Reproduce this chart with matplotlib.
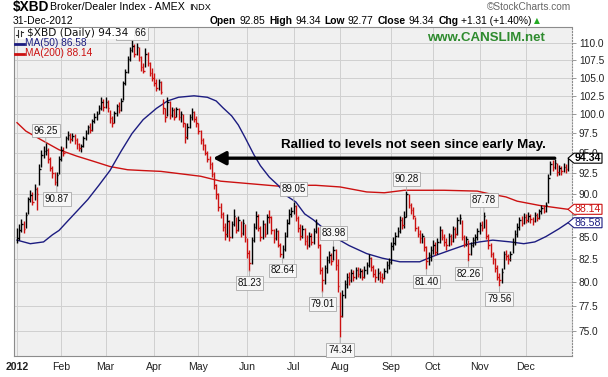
import numpy as np
import pandas as pd
import matplotlib
matplotlib.use("Agg")
import matplotlib.pyplot as plt
from matplotlib.ticker import FixedLocator, NullLocator, FixedFormatter
from matplotlib.transforms import IdentityTransform
from matplotlib.patches import Polygon, Rectangle
from matplotlib.lines import Line2D

plt.rcParams['font.family'] = ['Liberation Sans', 'DejaVu Sans']

# ---------------- data ----------------
holidays = ['2012-01-02', '2012-01-16', '2012-02-20', '2012-04-06', '2012-05-28', '2012-07-04',
            '2012-09-03', '2012-10-29', '2012-10-30', '2012-11-22', '2012-12-25']
dates = pd.bdate_range('2012-01-03', '2012-12-31', freq='C', holidays=holidays)

close = [
    84.8, 85.8, 86.4, 85.9, 87.5, 89.3, 89.8, 89.0, 90.5, 90.0, 93.0, 94.8, 95.2, 95.4, 94.2, 93.1, 92.5, 91.4, 92.2, 94.3,
    95.4, 95.0, 96.9, 97.3, 96.8, 97.2, 96.6, 96.1, 95.6, 95.9, 96.9, 97.6, 98.3, 97.9, 99.1, 99.7, 100.1, 100.9, 101.7, 101.0,
    101.6, 100.8, 99.5, 98.9, 100.2, 101.1, 100.6, 101.8, 104.2, 105.8, 107.6, 108.9, 109.5, 108.3, 109.4, 107.9, 106.5, 106.0, 108.4, 107.0, 105.6, 105.0,
    104.3, 103.6, 104.4, 103.0, 100.8, 99.6, 101.6, 99.9, 100.6, 99.7, 100.7, 99.6, 100.1, 98.8, 97.0, 98.4, 99.6, 100.3, 99.4, 98.8,
    97.8, 96.6, 96.0, 95.0, 94.3, 93.6, 92.4, 91.0, 89.9, 88.4, 87.6, 86.1, 85.3, 86.8, 85.0, 86.4, 87.4, 85.8, 86.9, 85.4, 86.5, 84.9,
    83.2, 82.1, 84.6, 86.1, 87.4, 86.0, 84.9, 86.4, 85.3, 87.3, 87.2, 85.7, 84.8, 85.6, 84.1, 83.0, 83.6, 85.1, 86.6, 87.6, 88.0,
    88.5, 87.1, 86.0, 85.1, 85.9, 84.5, 84.0, 85.1, 84.4, 85.6, 86.4, 84.1, 81.3, 80.2, 81.5, 82.4, 82.9, 82.3, 83.5, 81.8,
    79.6, 76.5, 78.6, 79.8, 80.6, 80.2, 81.0, 80.5, 81.3, 80.9, 81.2, 80.6, 81.3, 81.8, 82.6, 81.6, 80.9, 80.5, 81.0, 80.6, 80.4, 81.2, 81.8,
    82.2, 83.9, 84.3, 85.1, 85.6, 86.9, 86.3, 87.3, 89.9, 88.7, 88.1, 87.4, 86.0, 85.3, 84.8, 85.1, 83.8, 82.3, 82.9,
    83.5, 84.1, 83.3, 84.4, 85.7, 85.0, 84.4, 84.0, 85.1, 84.5, 85.9, 85.3, 86.9, 87.1, 85.0, 84.2, 84.7, 83.1, 84.1, 84.6, 84.9,
    85.6, 86.3, 86.0, 87.4, 85.1, 84.1, 83.1, 82.5, 81.5, 80.6, 80.2, 81.1, 83.1, 82.8, 82.5, 83.1, 84.4, 85.3, 86.1, 86.9, 86.6,
    87.3, 86.9, 87.4, 87.0, 86.8, 87.5, 87.1, 87.9, 88.3, 88.0, 88.7, 91.9, 93.6, 93.2, 93.7, 92.6, 93.1, 92.7, 93.3, 93.03, 94.34,
]
high = [
    86.0, 86.4, 87.0, 86.8, 87.8, 89.6, 90.4, 90.2, 91.2, 90.8, 93.6, 95.4, 95.9, 96.25, 95.6, 94.5, 93.4, 92.6, 92.6, 94.6,
    95.9, 95.8, 97.2, 97.8, 97.6, 97.6, 97.4, 96.9, 96.3, 96.2, 97.2, 98.0, 98.6, 98.8, 99.4, 100.2, 100.5, 101.3, 102.3, 102.0,
    102.4, 101.9, 100.6, 99.8, 100.5, 101.4, 101.6, 102.2, 104.6, 106.2, 108.0, 109.4, 110.66, 109.8, 109.9, 109.3, 108.0, 107.0, 109.2, 108.6, 107.2, 106.3,
    105.6, 104.8, 104.8, 104.5, 102.0, 100.9, 102.4, 101.8, 101.0, 100.9, 101.0, 100.8, 100.5, 100.0, 98.9, 98.8, 100.0, 100.8, 100.5, 99.8,
    98.9, 98.0, 96.9, 96.2, 95.3, 94.6, 93.9, 92.6, 91.2, 90.1, 88.9, 87.8, 86.5, 87.6, 86.9, 86.8, 88.2, 87.3, 87.4, 86.8, 87.0, 86.4,
    84.8, 83.5, 85.0, 86.6, 88.0, 87.6, 86.2, 86.9, 86.5, 87.6, 88.1, 87.4, 85.9, 86.0, 85.8, 84.3, 84.0, 85.5, 87.0, 88.2, 88.4,
    89.05, 88.6, 87.4, 86.4, 86.3, 86.0, 85.2, 85.5, 85.4, 86.0, 87.0, 86.1, 84.2, 81.6, 81.9, 82.8, 83.4, 83.2, 83.98, 83.6,
    82.5, 79.0, 79.2, 80.2, 81.0, 81.1, 81.4, 81.3, 81.6, 81.6, 81.5, 81.4, 81.7, 82.2, 83.0, 82.7, 81.9, 81.4, 81.5, 81.2, 81.0, 81.5, 82.3,
    82.6, 84.4, 84.9, 85.5, 86.1, 87.4, 87.2, 87.9, 90.28, 89.9, 88.9, 88.4, 87.2, 86.2, 85.7, 85.4, 85.0, 83.9, 83.3,
    83.9, 84.6, 84.4, 84.8, 86.2, 85.9, 85.3, 84.8, 85.4, 85.3, 86.2, 86.1, 87.3, 87.6, 86.9, 85.2, 85.1, 84.6, 84.4, 85.0, 85.3,
    86.0, 86.7, 86.8, 87.78, 87.0, 85.3, 84.3, 83.3, 82.6, 81.8, 81.0, 81.5, 83.4, 83.5, 83.1, 83.4, 84.8, 85.7, 86.5, 87.3, 87.4,
    87.7, 87.6, 87.8, 87.6, 87.3, 87.8, 87.7, 88.2, 88.6, 88.7, 89.0, 92.4, 94.0, 94.1, 94.2, 93.8, 93.5, 93.4, 93.8, 93.6, 94.34,
]
low = [
    84.3, 84.6, 85.5, 85.4, 86.0, 87.6, 89.0, 88.6, 89.2, 88.1, 91.0, 93.2, 94.4, 94.8, 93.8, 92.8, 91.9, 91.0, 90.87, 92.4,
    94.0, 94.6, 95.6, 96.6, 96.3, 96.5, 96.1, 95.5, 95.2, 95.1, 95.8, 96.7, 97.4, 97.5, 97.8, 98.9, 99.3, 100.0, 100.6, 100.5,
    100.8, 100.3, 98.8, 98.4, 98.9, 99.8, 100.2, 100.4, 101.9, 104.0, 105.6, 107.4, 108.6, 107.9, 108.2, 107.3, 106.0, 105.7, 106.5, 106.7, 105.2, 104.6,
    103.8, 103.1, 103.3, 102.7, 100.1, 99.0, 99.8, 99.4, 99.6, 99.3, 99.6, 99.2, 99.0, 98.3, 96.3, 96.8, 98.2, 99.3, 99.0, 98.3,
    97.4, 96.2, 95.4, 94.7, 93.9, 93.0, 92.0, 90.5, 89.4, 88.0, 87.1, 85.6, 84.6, 85.0, 84.5, 84.8, 86.2, 85.4, 85.6, 84.9, 85.2, 84.4,
    82.6, 81.23, 82.0, 84.4, 85.9, 85.6, 84.5, 84.7, 84.9, 85.3, 86.6, 85.3, 84.3, 84.6, 83.8, 82.7, 82.64, 83.4, 85.0, 86.4, 87.2,
    87.6, 86.8, 85.5, 84.6, 84.8, 84.1, 83.6, 83.8, 84.0, 84.2, 85.4, 83.7, 80.9, 79.01, 79.8, 81.0, 82.1, 81.9, 82.4, 81.3,
    79.0, 74.34, 76.4, 78.3, 79.4, 79.7, 80.0, 80.1, 80.3, 80.5, 80.4, 80.2, 80.4, 80.9, 81.6, 81.2, 80.5, 80.0, 80.2, 80.0, 79.9, 80.3, 81.0,
    81.4, 82.0, 83.5, 84.0, 84.9, 85.4, 85.9, 86.0, 87.3, 88.3, 87.6, 87.0, 85.6, 84.9, 84.3, 84.3, 83.4, 81.40, 81.9,
    82.3, 83.0, 82.9, 83.1, 84.3, 84.6, 83.9, 83.5, 83.9, 84.1, 84.4, 84.8, 85.2, 86.4, 84.6, 83.8, 83.9, 82.26, 82.9, 83.8, 84.1,
    84.6, 85.3, 85.6, 86.0, 84.7, 83.6, 82.7, 82.0, 81.1, 80.2, 79.56, 79.9, 81.4, 82.4, 82.0, 82.3, 83.2, 84.1, 85.0, 85.8, 86.2,
    86.4, 86.5, 86.7, 86.6, 86.3, 86.7, 86.8, 87.0, 87.6, 87.7, 87.8, 88.9, 92.2, 92.8, 93.0, 92.1, 92.3, 92.2, 92.6, 92.5, 92.77,
]

# moving averages read at sample trading-day indices
ma50_idx = [0, 6, 12, 16, 19, 23, 27, 32, 37, 42, 47, 52, 57, 63, 68, 73, 80, 86, 90, 93,
            97, 100, 103, 107, 110, 114, 118, 122, 126, 130, 134, 143, 150, 158, 165, 173, 182, 188, 196, 203,
            209, 215, 223, 229, 234, 239, 245, 249]
ma50_val = [84.6, 84.2, 84.4, 85.2, 85.7, 86.8, 87.9, 89.3, 91.0, 92.8, 95.2, 97.5, 99.3, 100.8, 101.8, 102.3, 102.5, 102.3, 101.8, 100.9,
            99.8, 98.6, 97.0, 94.8, 93.4, 92.0, 91.0, 89.7, 89.0, 87.6, 86.9, 85.0, 84.0, 83.1, 82.6, 82.2, 82.2, 82.8, 83.5, 84.1,
            84.4, 84.6, 84.4, 84.2, 84.4, 85.0, 85.9, 86.58]
ma200_idx = [0, 4, 12, 19, 27, 34, 42, 50, 57, 65, 77, 83, 92, 105, 118, 128, 135, 146, 158, 166,
             175, 193, 208, 213, 221, 226, 236, 249]
ma200_val = [98.9, 97.8, 96.5, 95.4, 94.6, 94.0, 93.3, 92.9, 92.8, 92.7, 92.3, 92.1, 91.5, 91.2, 90.9, 91.0, 91.0, 90.8, 90.2, 90.1,
             90.4, 90.4, 90.3, 90.0, 89.6, 89.1, 88.6, 88.14]

callout_idx = [13, 18, 52, 125, 105, 120, 138, 143, 146, 176, 185, 211, 204, 218]
callout_val = [96.25, 90.87, 110.66, 89.05, 81.23, 82.64, 79.01, 83.98, 74.34, 90.28, 81.40, 87.78, 82.26, 79.56]
callout_side = [1, -1, 1, 1, -1, -1, -1, 1, -1, 1, -1, 1, -1, -1]

yticks = [75.0, 77.5, 80.0, 82.5, 85.0, 87.5, 90.0, 92.5, 95.0, 97.5, 100.0, 102.5, 105.0, 107.5, 110.0]
# 87.5 sits fully under the MA tags in the reference, so its label is left blank
ytick_labels = ['75.0', '77.5', '80.0', '82.5', '85.0', '', '90.0', '92.5', '95.0', '97.5',
                '100.0', '102.5', '105.0', '107.5', '110.0']
month_labels = ['2012', 'Feb', 'Mar', 'Apr', 'May', 'Jun', 'Jul', 'Aug', 'Sep', 'Oct', 'Nov', 'Dec']

last_open, last_high, last_low, last_close = 92.85, 94.34, 92.77, 94.34
chg, chg_pct = 1.31, 1.40
arrow_from_idx, arrow_to_idx = 243, 88.6

# ---------------- figure ----------------
W, H = 608, 377
fig = plt.figure(figsize=(W / 100, H / 100), dpi=100)
fig.patch.set_facecolor('white')
ax = fig.add_axes([14 / W, 1 - 356 / H, 558 / W, 329 / H])
ax.set_facecolor('#f0f0f0')

RED = '#cc1111'
NAVY = '#1c1c80'
c = np.array(close)
hi = np.array(high)
lo = np.array(low)
idx = np.arange(len(c))
prev = np.r_[c[0], c[:-1]]
cols = np.where(c >= prev, 'black', RED)

ax.vlines(idx, lo, hi, colors=cols, lw=1.0, zorder=3)
ax.hlines(c, idx, idx + 0.7, colors=cols, lw=1.0, zorder=3)

ax.plot(ma200_idx, ma200_val, color=RED, lw=1.0, zorder=2)
ax.plot(ma50_idx, ma50_val, color=NAVY, lw=1.0, zorder=2)

ax.set_yscale('log')
ax.set_ylim(72.52, 112.32)
ax.set_xlim(-1.36, 250.8)
ax.yaxis.set_major_locator(FixedLocator(yticks))
ax.yaxis.set_minor_locator(NullLocator())
ax.yaxis.set_major_formatter(FixedFormatter(ytick_labels))
ax.yaxis.tick_right()
ax.tick_params(axis='y', length=3, width=0.6, color='#888888', labelsize=7.3, pad=2, labelcolor='#222222')

month_pos = [int(np.argmax(dates.month == m)) for m in range(1, 13)]
ax.set_xticks(month_pos)
ax.set_xticklabels(month_labels)
ax.xaxis.set_minor_locator(NullLocator())
ax.tick_params(axis='x', length=0, labelsize=7.6, pad=4, labelcolor='#222222')
ax.get_xticklabels()[0].set_fontweight('bold')

ax.grid(True, color='#d0d0d0', lw=0.7)
ax.set_axisbelow(True)
for s in ax.spines.values():
    s.set_color('#8c8c8c')
    s.set_linewidth(0.8)
ax.spines['right'].set_linestyle(':')

# callouts (the one at the peak sits tucked under the legend, as in the reference)
callout_offset = [9, 9, 3.5, 9, 9, 9, 9, 9, 9, 9, 9, 9, 9, 9]
for i, v, sd, off in zip(callout_idx, callout_val, callout_side, callout_offset):
    ax.annotate(f'{v:.2f}', xy=(i, v), xytext=(0, sd * off), textcoords='offset points',
                ha='center', va='center', fontsize=7, color='#111111', zorder=6,
                bbox=dict(boxstyle='square,pad=0.18', fc='#f7f7f7', ec='#a8a8a8', lw=0.6),
                arrowprops=dict(arrowstyle='-', color='#a8a8a8', lw=0.6, shrinkA=0, shrinkB=0),
                annotation_clip=False)

# annotation arrow
ax.annotate('', xy=(arrow_to_idx, last_close), xytext=(arrow_from_idx, last_close),
            arrowprops=dict(arrowstyle='-|>,head_length=0.75,head_width=0.4', mutation_scale=10,
                            lw=2.4, color='black', shrinkA=0, shrinkB=0), zorder=7)

I = IdentityTransform()


def P(x, y):
    return x, H - y


fig.text(*P(281, 145), 'Rallied to levels not seen since early May.', transform=I,
         ha='left', va='center', fontsize=9.6, weight='bold', color='black')

# legend
fig.add_artist(Rectangle(P(15, 39), 119, 11, transform=I, fc='white', ec='none', zorder=8))
for xx, (a, b) in zip([18, 21], [(30, 37), (31, 36)]):
    fig.add_artist(Line2D([xx, xx], [H - a, H - b], transform=I, color='#333333', lw=0.8, zorder=9))
fig.add_artist(Line2D([16, 18], [H - 35, H - 35], transform=I, color='#333333', lw=0.8, zorder=9))
fig.add_artist(Line2D([21, 23], [H - 32, H - 32], transform=I, color='#333333', lw=0.8, zorder=9))
fig.text(*P(27, 33.5), f'$XBD (Daily) {last_close:.2f}', transform=I, ha='left', va='center',
         fontsize=7.6, family='DejaVu Sans', color='#111111', zorder=10)
fig.add_artist(Line2D([15, 23.5], [H - 43.5, H - 43.5], transform=I, color=NAVY, lw=2, zorder=9))
fig.text(*P(25, 43.5), f'MA(50) {ma50_val[-1]:.2f}', transform=I, ha='left', va='center',
         fontsize=7.3, color=NAVY, zorder=10)
fig.add_artist(Line2D([15, 23.5], [H - 53.5, H - 53.5], transform=I, color=RED, lw=2, zorder=9))
fig.text(*P(25, 53.5), f'MA(200) {ma200_val[-1]:.2f}', transform=I, ha='left', va='center',
         fontsize=7.3, color=RED, zorder=10)

# value tags on the right
x0 = ax.transAxes.transform((1, 0))[0]
for val, col, wt in [(last_close, 'black', 'bold'), (ma200_val[-1], RED, 'normal'), (ma50_val[-1], NAVY, 'normal')]:
    yd = ax.transData.transform((0, val))[1]
    pts = [(x0 - 4, yd), (x0 + 2, yd + 5), (x0 + 30, yd + 5), (x0 + 30, yd - 5), (x0 + 2, yd - 5)]
    fig.add_artist(Polygon(pts, closed=True, transform=I, fc='white', ec=col, lw=0.8, zorder=8))
    fig.text(x0 + 16, yd, f'{val:.2f}', transform=I, ha='center', va='center', color=col,
             fontsize=7.6, weight=wt, zorder=9)

# header
fig.text(*P(13, 7.5), '$XBD', transform=I, ha='left', va='center', fontsize=9.8, weight='bold')
t2 = fig.text(*P(50, 7.5), 'Broker/Dealer Index - AMEX', transform=I, ha='left', va='center', fontsize=7.7)
ax.annotate('INDX', xy=(1, 0.5), xycoords=t2, xytext=(4, 0), textcoords='offset pixels',
            ha='left', va='center', fontsize=6.6, annotation_clip=False)
fig.text(*P(13, 20.5), '31-Dec-2012', transform=I, ha='left', va='center', fontsize=7.5)
fig.text(*P(571, 6.5), '\u00a9StockCharts.com', transform=I, ha='right', va='center', fontsize=7.3, color='#666666')

pieces = [('Open', 'bold'), (f'{last_open:.2f}', 'normal'), ('High', 'bold'), (f'{last_high:.2f}', 'normal'),
          ('Low', 'bold'), (f'{last_low:.2f}', 'normal'), ('Close', 'bold'), (f'{last_close:.2f}', 'normal'),
          ('Chg', 'bold'), (f'+{chg:.2f} (+{chg_pct:.2f}%)', 'normal')]
prev_t = fig.text(*P(210, 20.5), pieces[0][0], transform=I, ha='left', va='center', fontsize=7.4, weight='bold')
for txt, wt in pieces[1:]:
    gap = 3 if wt == 'normal' else 4
    prev_t = ax.annotate(txt, xy=(1, 0.5), xycoords=prev_t, xytext=(gap, 0), textcoords='offset pixels',
                         ha='left', va='center', fontsize=7.4, weight=wt, annotation_clip=False)
ax.annotate('\u25b2', xy=(1, 0.5), xycoords=prev_t, xytext=(2, 0), textcoords='offset pixels',
            ha='left', va='center', fontsize=5.5, color='#22aa22', family='DejaVu Sans', annotation_clip=False)

fig.text(*P(427, 38), 'www.CANSLIM.net', transform=I, ha='left', va='center', fontsize=9.5,
         weight='bold', color='#2e8b2e', zorder=10)

fig.savefig('out.png', dpi=100)
